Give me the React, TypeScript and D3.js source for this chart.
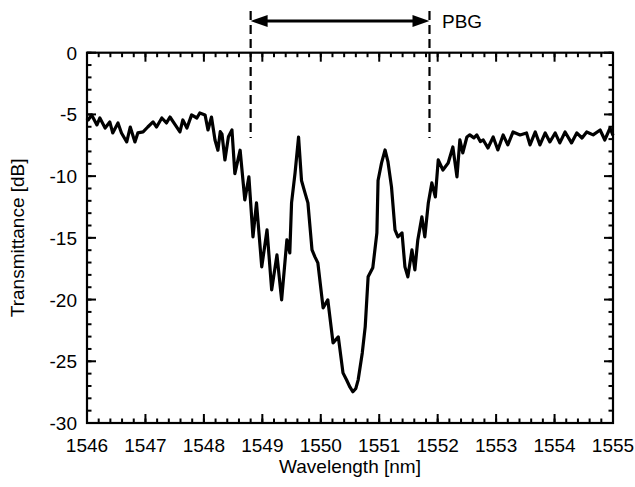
import React from "react";
import * as d3 from "d3";

const wavelength = [
  1546.0, 1546.02, 1546.08, 1546.17, 1546.22, 1546.31, 1546.39, 1546.44, 1546.53, 1546.59,
  1546.68, 1546.74, 1546.82, 1546.87, 1546.96, 1547.04, 1547.13, 1547.19, 1547.28, 1547.36,
  1547.42, 1547.51, 1547.59, 1547.64, 1547.71, 1547.79, 1547.88, 1547.93, 1548.02, 1548.07,
  1548.13, 1548.19, 1548.24, 1548.28, 1548.31, 1548.36, 1548.42, 1548.48, 1548.53, 1548.62,
  1548.70, 1548.77, 1548.84, 1548.90, 1548.99, 1549.08, 1549.16, 1549.25, 1549.33, 1549.42,
  1549.47, 1549.50, 1549.56, 1549.62, 1549.67, 1549.73, 1549.78, 1549.85, 1549.90, 1549.95,
  1550.04, 1550.12, 1550.21, 1550.30, 1550.38, 1550.44, 1550.50, 1550.55, 1550.60, 1550.64,
  1550.71, 1550.76, 1550.81, 1550.89, 1550.96, 1550.98, 1551.04, 1551.10, 1551.15, 1551.21,
  1551.27, 1551.32, 1551.39, 1551.44, 1551.49, 1551.56, 1551.61, 1551.66, 1551.73, 1551.78,
  1551.84, 1551.90, 1551.96, 1552.01, 1552.09, 1552.18, 1552.26, 1552.33, 1552.38, 1552.43,
  1552.50, 1552.55, 1552.62, 1552.67, 1552.73, 1552.78, 1552.86, 1552.95, 1553.03, 1553.12,
  1553.20, 1553.29, 1553.41, 1553.52, 1553.58, 1553.67, 1553.75, 1553.84, 1553.92, 1554.01,
  1554.09, 1554.18, 1554.29, 1554.38, 1554.47, 1554.55, 1554.66, 1554.78, 1554.86, 1554.95,
  1555.0,
];

const transmittance = [
  -5.3, -5.45, -5.04, -5.85, -5.29, -6.1, -5.61, -6.5, -5.69, -6.5,
  -7.23, -6.02, -7.23, -6.5, -6.42, -6.02, -5.61, -6.02, -5.29, -5.69,
  -5.21, -5.85, -6.42, -5.45, -6.1, -5.04, -5.29, -4.88, -5.04, -6.26,
  -5.21, -7.07, -7.9, -6.4, -6.6, -8.69, -6.8, -6.26, -9.8, -7.9,
  -11.93, -10.06, -14.92, -12.17, -17.35, -14.36, -19.21, -16.38, -20.02, -15.17,
  -16.22, -12.17, -9.74, -6.83, -10.35, -11.36, -12.17, -15.98, -16.54, -17.03,
  -20.67, -20.02, -23.51, -23.02, -25.94, -26.5, -27.1, -27.47, -27.2, -26.5,
  -24.32, -22.21, -18.16, -17.43, -14.6, -10.35, -8.93, -7.88, -8.85, -10.87,
  -14.36, -14.92, -14.6, -17.35, -18.16, -15.98, -17.59, -15.17, -13.3, -14.92,
  -12.17, -10.55, -11.68, -8.69, -9.5, -8.93, -7.64, -10.06, -7.07, -8.12,
  -6.83, -6.66, -6.9, -6.66, -7.2, -7.07, -7.72, -6.83, -7.88, -6.66,
  -7.47, -6.42, -6.66, -6.5, -7.47, -6.42, -7.47, -6.5, -7.23, -6.5,
  -7.31, -6.42, -7.31, -6.5, -6.91, -6.42, -6.66, -6.26, -7.07, -6.1,
  -6.7,
];

const xTickValues = [1546, 1547, 1548, 1549, 1550, 1551, 1552, 1553, 1554, 1555];
const yTickValues = [0, -5, -10, -15, -20, -25, -30];
const xDomain = [1546, 1555];
const yDomain = [-30, 0];
const pbgStart = 1548.8;
const pbgEnd = 1551.86;
const pbgLabel = "PBG";

const W = 635;
const H = 487;
const M = { left: 87, right: 22, top: 52.7, bottom: 64 };
const FONT = "'Liberation Sans', Arial, Helvetica, sans-serif";

export default function App() {
  const x = d3.scaleLinear().domain(xDomain).range([M.left, W - M.right]);
  const y = d3.scaleLinear().domain(yDomain).range([H - M.bottom, M.top]);
  const data = wavelength.map((w, i) => [w, transmittance[i]] as [number, number]);
  const line = d3
    .line<[number, number]>()
    .x((d) => x(d[0]))
    .y((d) => y(d[1]));

  const xMinor = d3.range(0, 46).map((i) => 1546 + i * 0.2);
  const yMinor = d3.range(-30, 1, 1);
  const x0 = x.range()[0];
  const x1 = x.range()[1];
  const y0 = y.range()[0];
  const y1 = y.range()[1];
  const majLen = 9;
  const minLen = 4.5;

  const arrowY = 21;
  const dashTop = 11;
  const dashBot = 138;
  const ax0 = x(pbgStart);
  const ax1 = x(pbgEnd);
  const ah = 17;
  const aw = 6;

  return (
    <svg
      width={W}
      height={H}
      style={{ position: "absolute", left: 0, top: 0, background: "#fff" }}
      fontFamily={FONT}
    >
      <rect x={0} y={0} width={W} height={H} fill="#fff" />
      {xMinor.map((v, i) => (
        <g key={"xm" + i} stroke="#000" strokeWidth={2}>
          <line x1={x(v)} x2={x(v)} y1={y0} y2={y0 - minLen} />
          <line x1={x(v)} x2={x(v)} y1={y1} y2={y1 + minLen} />
        </g>
      ))}
      {yMinor.map((v, i) => (
        <g key={"ym" + i} stroke="#000" strokeWidth={2}>
          <line x1={x0} x2={x0 + minLen} y1={y(v)} y2={y(v)} />
          <line x1={x1} x2={x1 - minLen} y1={y(v)} y2={y(v)} />
        </g>
      ))}
      {xTickValues.map((v) => (
        <g key={"xt" + v}>
          <line x1={x(v)} x2={x(v)} y1={y0} y2={y0 - majLen} stroke="#000" strokeWidth={2} />
          <line x1={x(v)} x2={x(v)} y1={y1} y2={y1 + majLen} stroke="#000" strokeWidth={2} />
          <text x={x(v)} y={452} fontSize={19} textAnchor="middle" fill="#000">
            {v}
          </text>
        </g>
      ))}
      {yTickValues.map((v) => (
        <g key={"yt" + v}>
          <line x1={x0} x2={x0 + majLen} y1={y(v)} y2={y(v)} stroke="#000" strokeWidth={2} />
          <line x1={x1} x2={x1 - majLen} y1={y(v)} y2={y(v)} stroke="#000" strokeWidth={2} />
          <text x={77} y={y(v) + 7} fontSize={19} textAnchor="end" fill="#000">
            {v}
          </text>
        </g>
      ))}
      <rect
        x={x0}
        y={y1}
        width={x1 - x0}
        height={y0 - y1}
        fill="none"
        stroke="#000"
        strokeWidth={2.2}
      />
      <path
        d={line(data) || ""}
        fill="none"
        stroke="#000"
        strokeWidth={3.2}
        strokeLinejoin="round"
      />
      <line x1={ax0} x2={ax0} y1={dashTop} y2={dashBot} stroke="#000" strokeWidth={2.2} strokeDasharray="9,5" />
      <line x1={ax1} x2={ax1} y1={dashTop} y2={dashBot} stroke="#000" strokeWidth={2.2} strokeDasharray="9,5" />
      <line x1={ax0 + ah - 2} x2={ax1 - ah + 2} y1={arrowY} y2={arrowY} stroke="#000" strokeWidth={3.2} />
      <polygon
        points={`${ax0},${arrowY} ${ax0 + ah},${arrowY - aw} ${ax0 + ah},${arrowY + aw}`}
        fill="#000"
      />
      <polygon
        points={`${ax1},${arrowY} ${ax1 - ah},${arrowY - aw} ${ax1 - ah},${arrowY + aw}`}
        fill="#000"
      />
      <text x={442} y={28} fontSize={19} fill="#000">
        {pbgLabel}
      </text>
      <text x={(x0 + x1) / 2} y={473} fontSize={19} textAnchor="middle" fill="#000">
        Wavelength [nm]
      </text>
      <text
        transform={`translate(24, ${(y0 + y1) / 2}) rotate(-90)`}
        fontSize={19}
        textAnchor="middle"
        fill="#000"
      >
        Transmittance [dB]
      </text>
    </svg>
  );
}
